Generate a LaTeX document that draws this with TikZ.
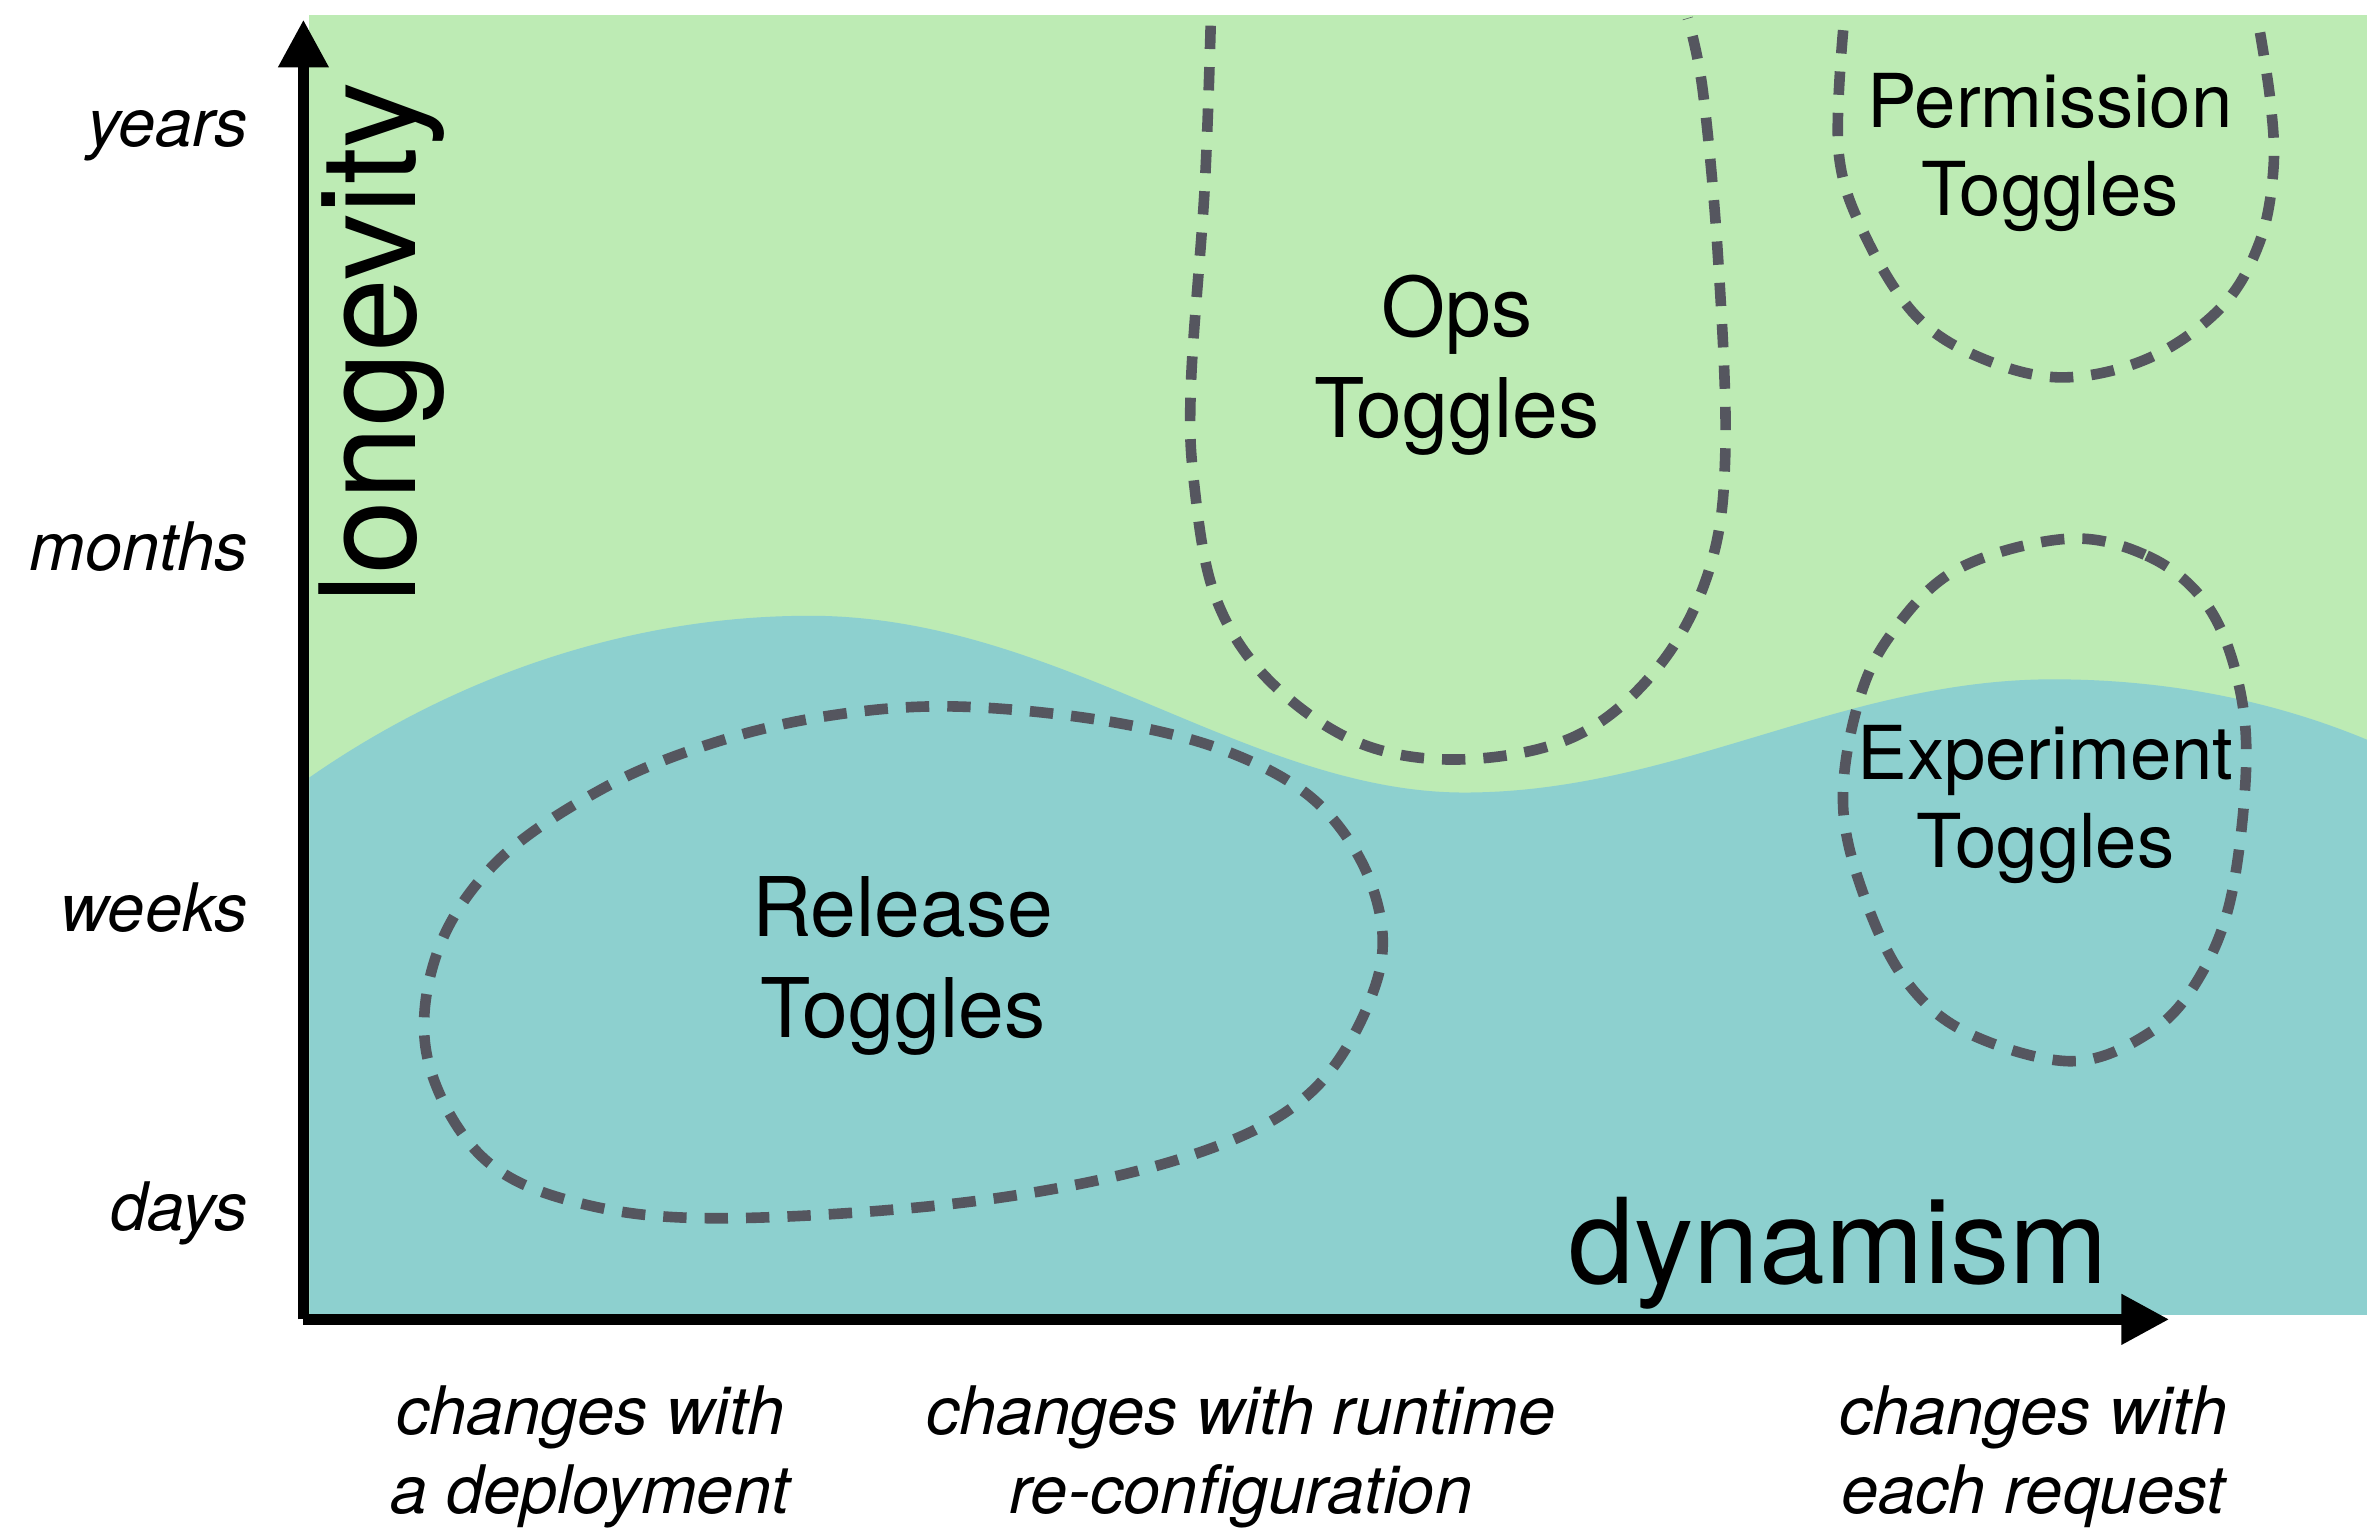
\documentclass[tikz,border=0pt]{standalone}
\usepackage{fontspec}
\setmainfont{TeX Gyre Heros}
\usetikzlibrary{arrows.meta}
\definecolor{bggreen}{HTML}{BDEBB4}
\definecolor{bgteal}{HTML}{8DD0CF}
\definecolor{dashgray}{HTML}{55565F}
\begin{document}
\begin{tikzpicture}[x=0.01cm,y=-0.01cm,
  zone/.style={draw=dashgray, line width=2pt, dash pattern=on 4.4pt off 3.4pt},
  axisline/.style={line width=2.1pt, -{Triangle[length=9pt,width=9pt]}},
  bigtxt/.style={font=\fontsize{15.5}{19}\selectfont, align=center, inner sep=0pt},
  midtxt/.style={font=\fontsize{14}{16.5}\selectfont, align=center, inner sep=0pt},
  ylab/.style={font=\fontsize{12.6}{15}\selectfont\itshape, anchor=base east, inner sep=0pt},
  xlab/.style={font=\fontsize{12.6}{15}\selectfont\itshape, align=center, inner sep=0pt}]
\useasboundingbox (0,0) rectangle (1568,1014);
% background regions
\fill[bggreen] (205,10) rectangle (1568,871);
\fill[bgteal] (205,515) .. controls (310,442) and (430,406) .. (545,408)
  .. controls (705,412) and (830,525) .. (970,525)
  .. controls (1110,525) and (1220,450) .. (1360,450)
  .. controls (1450,450) and (1520,470) .. (1568,490)
  -- (1568,871) -- (205,871) -- cycle;
% dashed zones
\draw[zone] plot[smooth cycle, tension=0.6] coordinates {(633,468) (735,478) (816,499) (875,534) (910,590) (912,650) (869,723) (787,766) (651,795) (482,807) (384,797) (319,766) (283,700) (290,630) (330,570) (400,522) (473,492) (550,474)};
\draw[zone] plot[smooth, tension=0.6] coordinates {(802,17) (798,125) (789,253) (791,320) (805,395) (840,450) (900,492) (970,503) (1045,487) (1100,440) (1133,375) (1143,297) (1138,169) (1128,60) (1118,12)};
\draw[zone] plot[smooth, tension=0.6] coordinates {(1221,20) (1218,101) (1235,155) (1269,209) (1312,237) (1366,250) (1424,237) (1472,203) (1497,160) (1506,112) (1504,67) (1496,15)};
\draw[zone] plot[smooth cycle, tension=0.6] coordinates {(1368,357) (1422,368) (1460,398) (1481,445) (1488,505) (1478,594) (1456,649) (1424,684) (1372,703) (1303,684) (1262,649) (1235,594) (1221,535) (1229,473) (1250,424) (1295,378)};
% zone labels
\node[bigtxt] (rel) at (598,640) {Release\\Toggles};
\node[bigtxt] (ops) at (965,242) {Ops\\Toggles};
\node[midtxt] (perm) at (1358,101) {Permission\\Toggles};
\node[midtxt] (exp) at (1355,533) {Experiment\\Toggles};
% axes
\coordinate (O) at (201,874);
\coordinate (ytip) at (201,13);
\coordinate (xtip) at (1437,874);
\draw[axisline] (O) -- (ytip);
\draw[axisline] (O) -- (xtip);
\node[font=\fontsize{25}{29}\selectfont, rotate=90, anchor=base, inner sep=0pt] (lng) at (275,227) {longevity};
\node[font=\fontsize{22.3}{26}\selectfont, anchor=base, inner sep=0pt] (dyn) at (1218,850) {dynamism};
% y labels
\node[ylab] (years) at (165,97) {years};
\node[ylab] (months) at (165,378) {months};
\node[ylab] (weeks) at (165,617) {weeks};
\node[ylab] (days) at (165,815) {days};
% x labels
\node[xlab] (xdep) at (391,965) {changes with\\a deployment};
\node[xlab] (xrun) at (822,965) {changes with runtime\\re-configuration};
\node[xlab] (xreq) at (1347,965) {changes with\\each request};
\end{tikzpicture}
\end{document}
